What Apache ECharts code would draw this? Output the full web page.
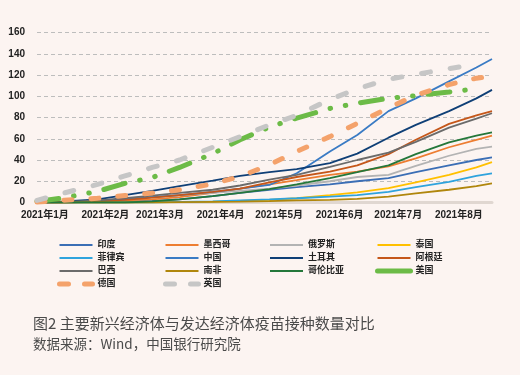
<!DOCTYPE html>
<html>
<head>
<meta charset="utf-8">
<script src="https://cdn.jsdelivr.net/npm/echarts@6/dist/echarts.min.js"></script>
<style>
    html, body {
        margin: 0;
        padding: 0;
        background: #FCF4F1;
    }
    #chart {
        width: 520px;
        height: 375px;
    }
</style>
</head>
<body>
<div id="chart"></div>
<script>
// 采样日期（每百人接种剂次）
let dates = ['2020-12-28', '2021-01-11', '2021-01-28', '2021-02-11', '2021-02-25', '2021-03-11',
    '2021-03-28', '2021-04-11', '2021-04-26', '2021-05-10', '2021-05-27', '2021-06-10',
    '2021-06-26', '2021-07-10', '2021-07-27', '2021-08-10', '2021-08-18'];

let india = [0, 0, 0.5, 1, 1.5, 3, 6, 9, 12, 14.5, 17, 20, 23, 28.5, 35, 40, 42.5];
let mexico = [0, 0.5, 1, 2, 3, 5, 9, 13, 17, 21, 26, 29, 34, 41.5, 52, 59, 63];
let russia = [0, 0.5, 1.5, 3, 5, 7, 9, 11, 13, 16, 20, 24, 26, 34.5, 44, 50.5, 52.5];
let thailand = [0, 0, 0, 0, 0, 0.3, 0.8, 1.5, 2.5, 4, 7, 9.5, 13.5, 19, 26, 33, 38];
let philippines = [0, 0, 0, 0, 0, 0.5, 1, 2, 3, 4, 5.5, 7, 10, 14.5, 19.5, 25, 27.5];
let china = [0, 0.5, 1.5, 3, 5, 7, 10, 13, 16.5, 27.5, 48, 63.5, 86, 98, 114, 127, 135];
let turkey = [0, 1, 3, 7, 11, 15.5, 20.5, 25, 28.5, 31.5, 37, 46, 61, 73, 86, 98, 106];
let argentina = [0, 0, 1, 2.5, 4.5, 7, 10, 13, 19, 24, 29, 35, 45.5, 59, 74, 82, 86];
let brazil = [0, 0.3, 2, 4, 6.5, 9, 12, 16, 21.5, 26, 33.5, 40, 47, 57, 70.5, 79, 84];
let southAfrica = [0, 0, 0, 0, 0.2, 0.4, 0.6, 0.8, 1.2, 2, 2.5, 3.5, 5.5, 8.5, 12, 15.5, 18];
let colombia = [0, 0, 0, 0, 1, 3, 6, 9, 12.5, 17, 23, 28.5, 35, 45.5, 56.5, 63, 66];
let usa = [1, 4.5, 10.5, 18, 23.5, 33, 46, 59, 71, 79.5, 88.5, 93.5, 98, 100.5, 104, 107, null];
let germany = [0.5, 2.2, 4, 6.5, 9, 12, 17.5, 24.5, 35.5, 48, 62, 74.5, 89, 101, 111, 117, 119];
let uk = [2, 9, 17, 25, 33, 40, 52, 62, 73, 82, 97, 107, 116, 120.5, 126, 130, null];

let yTicks = [0, 20, 40, 60, 80, 100, 120, 140, 160];

let font = 'Liberation Sans, Arial, "Noto Sans CJK SC", sans-serif';

function pairs(values) {
    let arr = [];
    for (let i = 0; i < dates.length; i++) {
        arr.push([dates[i], values[i]]);
    }
    return arr;
}

function thinLine(name, values, color) {
    return {
        name: name,
        type: 'line',
        symbol: 'none',
        data: pairs(values),
        lineStyle: {width: 1.8, color: color},
        itemStyle: {color: color}
    };
}

function thickLine(name, values, color, dash) {
    return {
        name: name,
        type: 'line',
        symbol: 'none',
        connectNulls: false,
        data: pairs(values),
        lineStyle: {width: 5, color: color, type: dash, cap: 'round'},
        itemStyle: {color: color}
    };
}

function legendCol(left, names) {
    return {
        orient: 'vertical',
        left: left,
        top: 240,
        padding: 0,
        itemWidth: 33,
        itemHeight: 10,
        itemGap: 3,
        selectedMode: false,
        // 图例只画线，不画中间的圆点
        itemStyle: {
            color: 'rgba(0,0,0,0)',
            borderColor: 'rgba(0,0,0,0)',
            borderWidth: 0
        },
        textStyle: {
            fontSize: 9,
            fontWeight: 'bold',
            color: '#222',
            lineHeight: 10,
            fontFamily: font
        },
        data: names
    };
}

let thickDash = {width: 5, type: [9, 16], cap: 'round'};

let option = {
    backgroundColor: '#FCF4F1',
    animation: false,
    grid: {
        left: 37,
        right: 28,
        top: 32.5,
        bottom: 172.5
    },
    legend: [
        legendCol(57, ['印度', '菲律宾', '巴西', {name: '德国', lineStyle: thickDash}]),
        legendCol(163, ['墨西哥', '中国', '南非', {name: '英国', lineStyle: thickDash}]),
        legendCol(269, ['俄罗斯', '土耳其', '哥伦比亚']),
        legendCol(375, ['泰国', '阿根廷', {name: '美国', lineStyle: {width: 5, type: 'solid', cap: 'round'}}])
    ],
    xAxis: {
        type: 'time',
        min: '2020-12-28',
        max: '2021-08-18',
        minInterval: 28 * 24 * 3600 * 1000,
        maxInterval: 31 * 24 * 3600 * 1000,
        axisLine: {
            lineStyle: {color: '#E0D7D1', width: 3}
        },
        axisTick: {show: false},
        splitLine: {show: false},
        axisLabel: {
            showMinLabel: false,
            showMaxLabel: false,
            hideOverlap: false,
            margin: 8,
            fontSize: 10,
            fontWeight: 'bold',
            color: '#222',
            fontFamily: font,
            formatter: function (val) {
                let d = new Date(val);
                if (d.getDate() !== 1) return '';
                return d.getFullYear() + '年' + (d.getMonth() + 1) + '月';
            }
        }
    },
    yAxis: {
        type: 'value',
        min: yTicks[0],
        max: yTicks[yTicks.length - 1],
        interval: yTicks[1] - yTicks[0],
        axisLine: {show: false},
        axisTick: {show: false},
        axisLabel: {
            margin: 12,
            fontSize: 10,
            fontWeight: 'bold',
            color: '#222',
            fontFamily: font
        },
        splitLine: {
            lineStyle: {color: '#BDBDBD', width: 1, type: [4, 3]}
        }
    },
    graphic: [
        {
            type: 'text',
            left: 33,
            top: 316,
            style: {
                text: '图2 主要新兴经济体与发达经济体疫苗接种数量对比',
                font: '15px "Noto Sans CJK SC"',
                fill: '#4a4a4a'
            }
        },
        {
            type: 'text',
            left: 33,
            top: 337,
            style: {
                text: '数据来源：Wind，中国银行研究院',
                font: '13.5px "Noto Sans CJK SC"',
                fill: '#4a4a4a'
            }
        }
    ],
    series: [
        thinLine('印度', india, '#3B6EB5'),
        thinLine('墨西哥', mexico, '#ED7D31'),
        thinLine('俄罗斯', russia, '#B3B3B3'),
        thinLine('泰国', thailand, '#FFC000'),
        thinLine('菲律宾', philippines, '#2FA3DD'),
        thinLine('中国', china, '#3A7BC4'),
        thinLine('土耳其', turkey, '#0F3F76'),
        thinLine('阿根廷', argentina, '#C5571A'),
        thinLine('巴西', brazil, '#6B6B6B'),
        thinLine('南非', southAfrica, '#B0860C'),
        thinLine('哥伦比亚', colombia, '#24773A'),
        thickLine('美国', usa, '#6CBB47', [22, 15, 0.5, 15, 0.5, 15]),
        thickLine('德国', germany, '#F4A26B', [8, 19]),
        thickLine('英国', uk, '#C6C6C6', [9, 20])
    ]
};

let myChart = echarts.init(document.getElementById('chart'));
myChart.setOption(option);
</script>
</body>
</html>
